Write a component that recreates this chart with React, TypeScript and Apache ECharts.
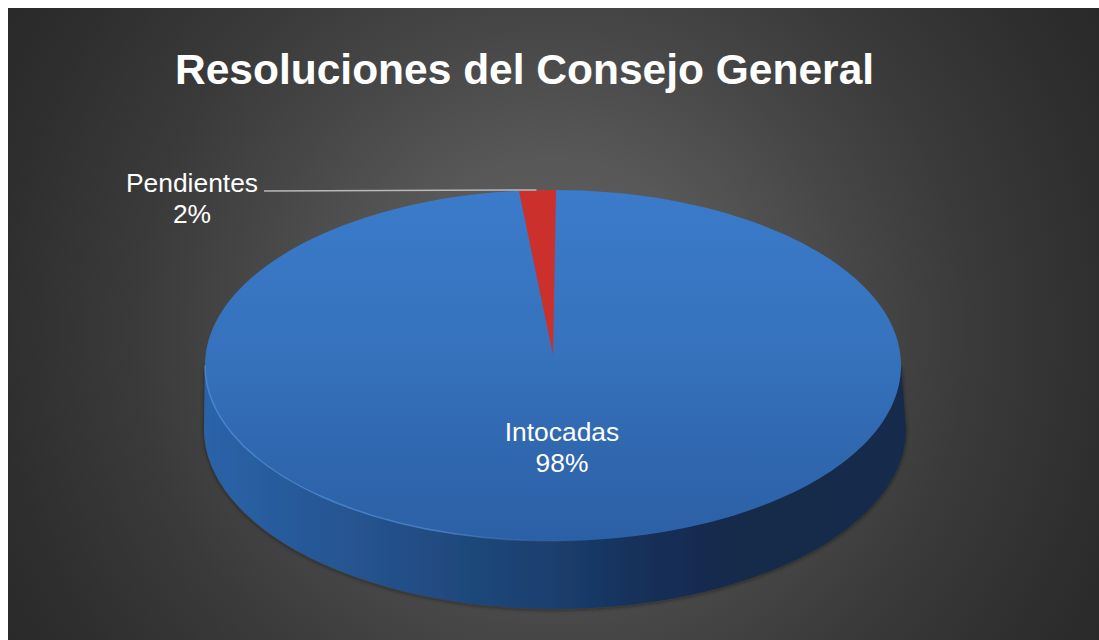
import React, { useEffect, useRef } from "react";
import * as echarts from "echarts";

const titleText = "Resoluciones del Consejo General";
const categories = ["Intocadas", "Pendientes"];
const values = [98.3, 1.7];

const W = 1091;
const H = 632;
const OFF = 8;
const FONT = '"Liberation Sans", Arial, sans-serif';
const CX = 553 - OFF;
const CY = 365.5 - OFF;
const RX = 348;
const RY = 175.5;
const APEX_Y = 355 - OFF;
const BCX = 555 - OFF;
const BCY = 429 - OFF;
const BRX = 351;
const BRY = 180;
const START_DEG = 0.5;

const total = values.reduce((a, b) => a + b, 0);
const pt = (deg: number) => {
  const r = (deg * Math.PI) / 180;
  return [CX + RX * Math.sin(r), CY - RY * Math.cos(r)];
};

const linear = (x: number, y: number, x2: number, y2: number, stops: [number, string][]) =>
  new echarts.graphic.LinearGradient(x, y, x2, y2, stops.map(([offset, color]) => ({ offset, color })));

const renderItem = (params: any) => {
  const i = params.dataIndex;
  const before = values.slice(0, i).reduce((a, b) => a + b, 0);
  const a0 = START_DEG + (before / total) * 360;
  const a1 = a0 + (values[i] / total) * 360;
  const [x0, y0] = pt(a0);
  const [x1, y1] = pt(a1);
  const large = a1 - a0 > 180 ? 1 : 0;
  const d = `M ${CX} ${APEX_Y} L ${x0} ${y0} A ${RX} ${RY} 0 ${large} 1 ${x1} ${y1} Z`;
  const pct = Math.round((values[i] / total) * 100);
  const text = `${categories[i]}\n${pct}%`;
  const children: any[] = [];

  if (i === 0) {
    children.push({
      type: "path",
      shape: {
        pathData: `M ${CX - RX} ${CY} L ${BCX - BRX} ${BCY} A ${BRX} ${BRY} 0 0 0 ${BCX + BRX} ${BCY} L ${CX + RX} ${CY} Z`,
      },
      style: {
        fill: linear(0, 0, 1, 0, [
          [0, "#2a63a9"],
          [0.2, "#265592"],
          [0.4, "#1e4678"],
          [0.5, "#1b3f6e"],
          [0.62, "#15305a"],
          [0.76, "#13294a"],
          [1, "#13294b"],
        ]),
        shadowColor: "rgba(20,10,5,0.5)",
        shadowBlur: 4,
        shadowOffsetY: 1,
      },
    });
    children.push({
      type: "ellipse",
      shape: { cx: CX, cy: CY, rx: RX, ry: RY },
      style: {
        fill: linear(0, 0, 0, 1, [
          [0, "#3b7bca"],
          [0.45, "#3672bd"],
          [0.8, "#2f66ad"],
          [1, "#2c60a6"],
        ]),
      },
    });
    children.push({
      type: "path",
      shape: {
        pathData: `M ${CX - RX} ${CY} A ${RX} ${RY} 0 0 0 ${CX + 40} ${CY + RY * 0.9934}`,
      },
      style: {
        fill: "none",
        lineWidth: 1.5,
        stroke: linear(0, 0, 1, 0, [
          [0, "rgba(74,136,210,0.9)"],
          [0.6, "rgba(75,134,204,0.8)"],
          [1, "rgba(60,114,180,0)"],
        ]),
      },
    });
  }

  if (i !== 0) {
    children.push({
      type: "path",
      shape: { pathData: d },
      style: { fill: "#cb302d" },
    });
  }

  if (i === 0) {
    children.push({
      type: "text",
      style: {
        text,
        x: 562 - OFF,
        y: 447 - OFF,
        align: "center",
        verticalAlign: "middle",
        fill: "#ffffff",
        font: `26.4px ${FONT}`,
        lineHeight: 31,
      },
    });
  } else {
    const [lx] = pt((a0 + a1) / 2);
    children.push({
      type: "line",
      shape: { x1: 264 - OFF, y1: 191 - OFF, x2: lx - 1, y2: 190 - OFF },
      style: { stroke: "#b9b9b9", lineWidth: 1.5 },
    });
    children.push({
      type: "text",
      style: {
        text,
        x: 192 - OFF,
        y: 198.5 - OFF,
        align: "center",
        verticalAlign: "middle",
        fill: "#ffffff",
        font: `26.4px ${FONT}`,
        lineHeight: 31,
      },
    });
  }
  return { type: "group", children };
};

export default function App() {
  const ref = useRef<HTMLDivElement>(null);
  useEffect(() => {
    const chart = echarts.init(ref.current!, null, { renderer: "svg" });
    chart.setOption({
      animation: false,
      backgroundColor: new echarts.graphic.RadialGradient(
        545,
        322,
        700,
        [
          { offset: 0, color: "#626262" },
          { offset: 0.24, color: "#585858" },
          { offset: 0.43, color: "#474747" },
          { offset: 0.6, color: "#3a3a3a" },
          { offset: 0.8, color: "#2e2e2e" },
          { offset: 1, color: "#252525" },
        ],
        true
      ),
      title: {
        text: titleText,
        left: 175 - OFF - 5,
        top: 43 - OFF,
        textStyle: { color: "#ffffff", fontFamily: FONT, fontSize: 42.5, fontWeight: "bold" },
      },
      series: [
        {
          type: "custom",
          coordinateSystem: "none",
          silent: true,
          data: categories.map((name, i) => ({ name, value: values[i] })),
          renderItem,
        },
      ],
    });
    return () => chart.dispose();
  }, []);
  return (
    <div
      ref={ref}
      style={{ position: "absolute", left: OFF, top: OFF, width: W, height: H }}
    />
  );
}
